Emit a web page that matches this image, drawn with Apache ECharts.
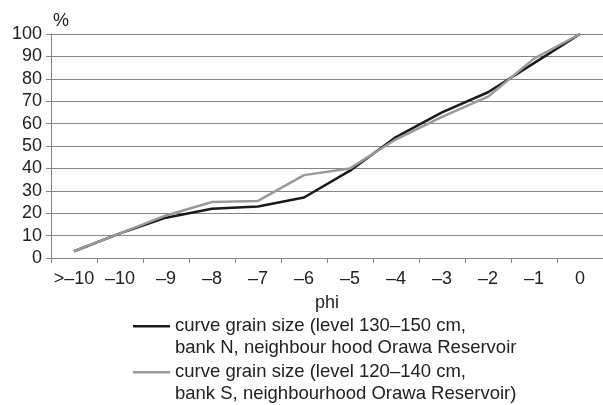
<!DOCTYPE html>
<html><head><meta charset="utf-8">
<script src="https://cdn.jsdelivr.net/npm/echarts@6/dist/echarts.min.js"></script>
<style>html,body{margin:0;padding:0;background:#fff}#c{width:603px;height:405px}</style>
</head><body><div id="c"></div>
<script>
const categories = ['>–10','–10','–9','–8','–7','–6','–5','–4','–3','–2','–1','0'];
const seriesN = [3, 11, 18, 22, 23, 27, 39, 54, 65, 74, 87, 100];
const seriesS = [3, 11, 19, 25, 25.5, 37, 40, 53, 63, 72, 89, 100];
const nameN = 'curve grain size (level 130–150 cm,\nbank N, neighbour hood Orawa Reservoir';
const nameS = 'curve grain size (level 120–140 cm,\nbank S, neighbourhood Orawa Reservoir)';
const yTicks = [0,10,20,30,40,50,60,70,80,90,100];

const font = 'Liberation Sans, Arial, sans-serif';
const gridCol = '#858585';
const chart = echarts.init(document.getElementById('c'), null, {renderer:'canvas'});
const legendIcon = 'path://M0,0 M0,10L37,10L37,12.6L0,12.6Z M37,44';
chart.setOption({
  animation: false,
  grid: {left: 51, right: -6, top: 34, bottom: 147, containLabel: false},
  xAxis: {
    type: 'category', data: categories, boundaryGap: true,
    name: 'phi', nameLocation: 'middle', nameGap: 36,
    nameTextStyle: {fontFamily: font, fontSize: 18, color: '#222'},
    axisLine: {lineStyle: {color: gridCol, width: 1}},
    axisTick: {show: true, length: 5, lineStyle: {color: gridCol}},
    axisLabel: {fontFamily: font, fontSize: 18, color: '#222', margin: 12, interval: 0}
  },
  yAxis: {
    type: 'value', min: 0, max: 100, interval: 10,
    name: '%', nameLocation: 'end', nameGap: 4,
    nameTextStyle: {fontFamily: font, fontSize: 18, color: '#222', align: 'left', padding: [0,0,0,2]},
    axisLine: {show: true, lineStyle: {color: gridCol, width: 1}},
    axisTick: {show: true, length: 5, lineStyle: {color: gridCol}},
    axisLabel: {fontFamily: font, fontSize: 18, color: '#222', margin: 9,
      formatter: v => yTicks.includes(v) ? String(v) : ''},
    splitLine: {show: true, lineStyle: {color: gridCol, width: 1}}
  },
  legend: {
    data: [nameN, nameS], left: 133, top: 315, orient: 'vertical', padding: 0,
    itemWidth: 37, itemHeight: 44, itemGap: 2, icon: legendIcon, selectedMode: false,
    textStyle: {fontFamily: font, fontSize: 18.5, color: '#222', lineHeight: 22}
  },
  series: [
    {name: nameN, type: 'line', data: seriesN, showSymbol: false, symbol: 'none',
     lineStyle: {color: '#1a1a1a', width: 2.5}, itemStyle: {color: '#1a1a1a'}, z: 2},
    {name: nameS, type: 'line', data: seriesS, showSymbol: false, symbol: 'none',
     lineStyle: {color: '#9a9a9a', width: 2.5}, itemStyle: {color: '#9a9a9a'}, z: 3}
  ]
});
</script></body></html>
